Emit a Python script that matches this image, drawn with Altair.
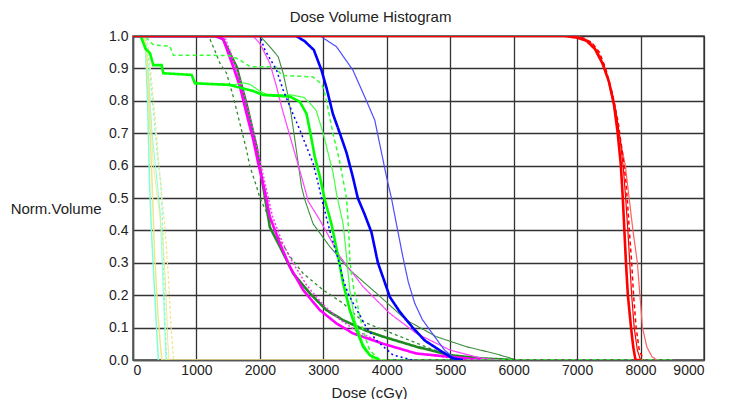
import altair as alt
import pandas as pd

# ---- data: dose (cGy) and normalized volume for each DVH curve ----
R1_dose = [0, 6800, 7000, 7150, 7280, 7400, 7500, 7580, 7640, 7690, 7720, 7745, 7770, 7800, 7850, 7885, 7920, 8000]
R1_vol = [1, 1, 0.995, 0.985, 0.96, 0.915, 0.86, 0.79, 0.7, 0.6, 0.5, 0.4, 0.3, 0.2, 0.1, 0.04, 0.0, 0.0]
R2_dose = [0, 6850, 7050, 7200, 7320, 7430, 7530, 7610, 7680, 7730, 7765, 7800, 7830, 7860, 7900, 7950, 8000]
R2_vol = [1, 1, 0.995, 0.98, 0.95, 0.9, 0.84, 0.77, 0.68, 0.59, 0.5, 0.4, 0.3, 0.2, 0.1, 0.03, 0]
R3_dose = [0, 6900, 7080, 7230, 7350, 7450, 7560, 7650, 7720, 7770, 7800, 7830, 7860, 7890, 7930, 7980, 8050]
R3_vol = [1, 1, 0.995, 0.98, 0.95, 0.9, 0.82, 0.73, 0.63, 0.55, 0.47, 0.38, 0.3, 0.2, 0.1, 0.03, 0]
R4_dose = [0, 6900, 7100, 7250, 7360, 7460, 7560, 7660, 7760, 7820, 7880, 7950, 7990, 8030, 8100, 8180, 8260]
R4_vol = [1, 1, 0.995, 0.975, 0.94, 0.89, 0.8, 0.7, 0.6, 0.5, 0.4, 0.3, 0.2, 0.1, 0.04, 0.01, 0]

B1_dose = [0, 2570, 2700, 2850, 2970, 3050, 3150, 3260, 3365, 3465, 3543, 3650, 3759, 3860, 3950, 4047, 4200, 4409, 4600, 4835, 5040, 5200]
B1_vol = [1, 1, 0.985, 0.957, 0.895, 0.84, 0.76, 0.70, 0.64, 0.565, 0.5, 0.45, 0.394, 0.3, 0.25, 0.195, 0.15, 0.1, 0.06, 0.03, 0.005, 0]
B2_dose = [0, 2950, 3207, 3465, 3680, 3811, 3917, 3995, 4073, 4152, 4252, 4340, 4441, 4560, 4677, 4800, 4913, 5100]
B2_vol = [1, 1, 0.967, 0.895, 0.80, 0.74, 0.64, 0.566, 0.5, 0.42, 0.32, 0.24, 0.175, 0.125, 0.093, 0.06, 0.03, 0]
B3_dose = [0, 2000, 2079, 2262, 2367, 2499, 2630, 2735, 2839, 2918, 2971, 3100, 3250, 3310, 3400, 3500, 3680, 3840, 4100, 4400]
B3_vol = [1, 1, 0.957, 0.895, 0.833, 0.77, 0.71, 0.658, 0.607, 0.545, 0.5, 0.4, 0.3, 0.25, 0.2, 0.165, 0.1, 0.06, 0.015, 0]

G1_dose = [0, 120, 200, 268, 320, 452, 478, 924, 976, 1528, 1633, 1895, 2052, 2472, 2630, 2735, 2787, 2866, 2945, 3024, 3128, 3233, 3312, 3417, 3522, 3627, 3732, 3890]
G1_vol = [1, 1, 0.96, 0.947, 0.91, 0.91, 0.885, 0.88, 0.854, 0.849, 0.843, 0.83, 0.818, 0.813, 0.797, 0.76, 0.71, 0.627, 0.566, 0.494, 0.42, 0.32, 0.237, 0.154, 0.093, 0.041, 0.015, 0]
G2_dose = [0, 120, 200, 268, 320, 452, 478, 924, 976, 1600, 1750, 1850, 2000, 2100, 2500, 2700, 2800, 2887, 2997, 3076, 3155, 3207, 3233, 3312, 3365, 3417, 3496, 3627, 3785]
G2_vol = [1, 1, 0.96, 0.947, 0.91, 0.91, 0.885, 0.88, 0.854, 0.85, 0.855, 0.85, 0.83, 0.82, 0.818, 0.81, 0.79, 0.77, 0.70, 0.638, 0.576, 0.514, 0.49, 0.42, 0.32, 0.216, 0.123, 0.05, 0]
G3_dose = [0, 200, 250, 330, 580, 635, 1500, 1650, 1850, 2250, 2300, 2350, 2830, 2960, 3000, 3050, 3100, 3150, 3250, 3365, 3400, 3420, 3480, 3522, 3627, 3730, 3890, 8500]
G3_vol = [1, 1, 0.985, 0.972, 0.969, 0.941, 0.94, 0.93, 0.905, 0.905, 0.89, 0.878, 0.874, 0.854, 0.84, 0.8, 0.75, 0.7, 0.62, 0.5, 0.4, 0.3, 0.22, 0.185, 0.09, 0.03, 0, 0]

M1_dose = [0, 1300, 1422, 1580, 1685, 1790, 1895, 1974, 2079, 2157, 2315, 2472, 2682, 2945, 3207, 3470, 3943, 4467, 4992, 5500]
M1_vol = [1, 1, 0.99, 0.905, 0.844, 0.76, 0.68, 0.607, 0.52, 0.442, 0.36, 0.288, 0.216, 0.154, 0.113, 0.082, 0.05, 0.02, 0.01, 0]
M2_dose = [0, 1350, 1460, 1620, 1720, 1830, 1930, 2010, 2110, 2200, 2360, 2520, 2740, 3000, 3260, 3520, 3950, 4450, 4950, 5400]
M2_vol = [1, 1, 0.99, 0.905, 0.844, 0.76, 0.68, 0.607, 0.52, 0.442, 0.36, 0.3, 0.23, 0.17, 0.125, 0.09, 0.05, 0.02, 0.008, 0]
M3_dose = [0, 1895, 2000, 2157, 2262, 2341, 2446, 2551, 2656, 2735, 2761, 2945, 3260, 3627, 4047, 4467, 4992, 5500, 5800]
M3_vol = [1, 1, 0.977, 0.916, 0.844, 0.782, 0.71, 0.638, 0.566, 0.51, 0.49, 0.432, 0.32, 0.226, 0.144, 0.082, 0.031, 0.005, 0]

D1_dose = [0, 1300, 1420, 1520, 1633, 1790, 1948, 2052, 2157, 2315, 2525, 2787, 3050, 3312, 3680, 3943, 4467, 4992, 5500, 6000]
D1_vol = [1, 1, 0.99, 0.95, 0.905, 0.79, 0.658, 0.535, 0.41, 0.35, 0.267, 0.206, 0.154, 0.123, 0.09, 0.072, 0.041, 0.015, 0.005, 0]
D2_dose = [0, 1150, 1213, 1280, 1370, 1475, 1580, 1685, 1790, 1843, 1948, 2000, 2262, 2472, 2682, 2997, 3312, 3627, 4152, 4677, 5045, 5300]
D2_vol = [1, 1, 0.99, 0.96, 0.916, 0.885, 0.813, 0.73, 0.648, 0.597, 0.535, 0.5, 0.39, 0.32, 0.267, 0.216, 0.175, 0.118, 0.077, 0.036, 0.01, 0]
D3_dose = [0, 2000, 2157, 2289, 2367, 2446, 2499, 2551, 2604, 2656, 2709, 2839, 3102, 3417, 3837, 4309, 4782, 5255, 5700, 6000]
D3_vol = [1, 1, 0.967, 0.936, 0.885, 0.813, 0.75, 0.68, 0.607, 0.535, 0.494, 0.42, 0.35, 0.278, 0.206, 0.123, 0.072, 0.041, 0.02, 0.003]

C1_dose = [0, 150, 200, 230, 260, 290, 330, 370, 400]
C1_vol = [1, 1, 0.95, 0.8, 0.55, 0.4, 0.25, 0.1, 0]
C2_dose = [0, 200, 260, 330, 400, 440, 470, 500, 530]
C2_vol = [1, 1, 0.9, 0.75, 0.6, 0.55, 0.4, 0.15, 0]
C3_dose = [0, 180, 240, 300, 380, 430, 470, 500, 520]
C3_vol = [1, 1, 0.9, 0.7, 0.55, 0.45, 0.25, 0.1, 0]
K1_dose = [0, 170, 220, 260, 300, 340, 390, 430, 455, 4000]
K1_vol = [1, 1, 0.93, 0.75, 0.55, 0.33, 0.15, 0.05, 0, 0]
K2_dose = [0, 220, 300, 370, 430, 500, 560, 600, 640]
K2_vol = [1, 1, 0.85, 0.7, 0.55, 0.42, 0.25, 0.1, 0]
K3_dose = [0, 190, 250, 320, 420, 480, 520, 550, 570]
K3_vol = [1, 1, 0.85, 0.6, 0.45, 0.35, 0.2, 0.05, 0]

x_ticks = [0, 1000, 2000, 3000, 4000, 5000, 6000, 7000, 8000, 9000]
y_ticks = [0.0, 0.1, 0.2, 0.3, 0.4, 0.5, 0.6, 0.7, 0.8, 0.9, 1.0]

curves = {
    "C1": (C1_dose, C1_vol), "C2": (C2_dose, C2_vol), "C3": (C3_dose, C3_vol),
    "K1": (K1_dose, K1_vol), "K2": (K2_dose, K2_vol), "K3": (K3_dose, K3_vol),
    "D3": (D3_dose, D3_vol), "D2": (D2_dose, D2_vol), "D1": (D1_dose, D1_vol),
    "M3": (M3_dose, M3_vol), "M2": (M2_dose, M2_vol), "M1": (M1_dose, M1_vol),
    "G3": (G3_dose, G3_vol), "G2": (G2_dose, G2_vol), "G1": (G1_dose, G1_vol),
    "B3": (B3_dose, B3_vol), "B2": (B2_dose, B2_vol), "B1": (B1_dose, B1_vol),
    "R4": (R4_dose, R4_vol), "R2": (R2_dose, R2_vol), "R3": (R3_dose, R3_vol), "R1": (R1_dose, R1_vol),
}

# styles: colour, width, dash
styles = {
    "C1": ("#7fffd4", 1.5, [1, 0]), "C2": ("#7fffd4", 1.2, [3, 2]), "C3": ("#7fffd4", 1.0, [1, 0]),
    "K1": ("#f0e68c", 1.5, [1, 0]), "K2": ("#f0e68c", 1.2, [3, 2]), "K3": ("#f0e68c", 1.0, [1, 0]),
    "D3": ("#3f8f3f", 1.1, [1, 0]), "D2": ("#2e8b2e", 1.3, [3, 3]), "D1": ("#1f8a1f", 2.6, [1, 0]),
    "M3": ("#ff44ff", 1.2, [1, 0]), "M2": ("#ff33ff", 1.5, [2, 2]), "M1": ("#ff00ff", 2.6, [1, 0]),
    "G3": ("#33ff33", 1.5, [4, 3]), "G2": ("#44ff44", 1.2, [1, 0]), "G1": ("#00ff00", 2.6, [1, 0]),
    "B3": ("#0000ff", 1.5, [2, 3]), "B2": ("#4d4dff", 1.2, [1, 0]), "B1": ("#0000ff", 2.6, [1, 0]),
    "R4": ("#ff6060", 1.2, [1, 0]), "R2": ("#ff0000", 1.2, [1, 0]), "R3": ("#ff0000", 1.5, [4, 3]), "R1": ("#ff0000", 2.6, [1, 0]),
}

rows = []
for name, (ds, vs) in curves.items():
    for i, (d, v) in enumerate(zip(ds, vs)):
        rows.append({"curve": name, "i": i, "dose": d, "vol": v})
df = pd.DataFrame(rows)

FONT = "Liberation Sans"

base = alt.Chart(df).encode(
    x=alt.X("dose:Q", scale=alt.Scale(domain=[0, 9000], nice=False, zero=False),
            axis=alt.Axis(values=x_ticks, title="Dose (cGy)", format="d",
                          titleX=236, titleY=32, titleBaseline="middle", titleAlign="center")),
    y=alt.Y("vol:Q", scale=alt.Scale(domain=[0, 1], nice=False),
            axis=alt.Axis(values=y_ticks, format=".1f", title="Norm.Volume",
                          titleAngle=0, titleAlign="right", titleBaseline="middle",
                          titleX=-32, titleY=172)),
    order=alt.Order("i:Q"),
)

layers = []
for name in curves:
    color, width, dash = styles[name]
    layers.append(
        base.transform_filter(alt.datum.curve == name).mark_line(
            color=color, strokeWidth=width, strokeDash=dash, clip=True)
    )

chart = alt.layer(*layers).properties(
    width=571, height=324,
    title=alt.TitleParams("Dose Volume Histogram", anchor="middle", dx=-48, offset=4,
                          fontSize=15, fontWeight="normal", font=FONT, color="#222"),
    autosize=alt.AutoSizeParams(type="none"),
    padding={"left": 125, "top": 28, "right": 24, "bottom": 39},
).configure_axis(
    grid=True, gridColor="#333", gridWidth=1.3, ticks=False,
    domainColor="#555", domainWidth=1.5,
    labelFont=FONT, labelFontSize=14, labelColor="#222",
    titleFont=FONT, titleFontSize=15, titleFontWeight="normal", titleColor="#222",
).configure_axisY(labelPadding=5).configure_axisX(labelPadding=3).configure_view(
    stroke="#555", strokeWidth=1.5
)

chart.save("out.html", embed_options={"renderer": "svg", "actions": False})
